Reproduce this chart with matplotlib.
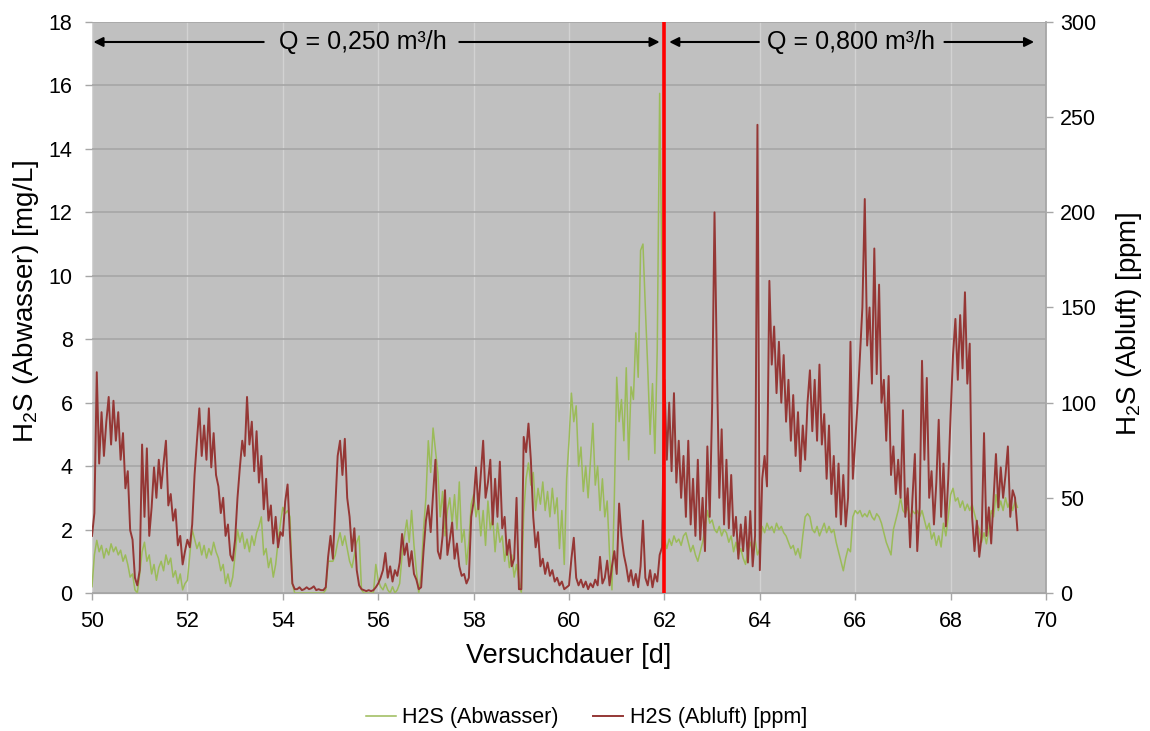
import numpy as np
import matplotlib
matplotlib.use("Agg")
import matplotlib.pyplot as plt

plt.rcParams['font.family'] = ['Liberation Sans', 'DejaVu Sans']
plt.rcParams['mathtext.fontset'] = 'custom'
plt.rcParams['mathtext.rm'] = 'Liberation Sans'

# time grid of the logged values (days), one value every 0.05 d
t_start = 50.0
t_step = 0.05

# H2S in the waste water [mg/L], one row per day
abwasser = [
    0.2, 1.2, 1.66, 1.3, 1.5, 1.1, 1.4, 1.2, 1.55, 1.3, 1.45, 1.2, 1.35, 1.0, 1.2, 0.9, 0.5, 0.6, 0.1, 0.0,
    0.6, 1.3, 1.6, 1.0, 1.2, 0.6, 0.9, 0.4, 0.8, 1.0, 0.7, 1.2, 0.9, 1.1, 0.5, 0.7, 0.3, 0.6, 0.1, 0.3,
    0.4, 1.2, 2.0, 1.7, 1.4, 1.6, 1.2, 1.5, 1.1, 1.4, 1.2, 1.6, 1.3, 1.1, 0.7, 0.9, 0.3, 0.6, 0.2, 0.5,
    1.2, 2.0, 1.6, 1.9, 1.4, 1.7, 1.3, 1.8, 1.5, 1.9, 2.1, 2.4, 1.2, 1.4, 0.8, 1.1, 0.5, 0.9, 1.6, 2.2,
    2.7, 2.5, 2.6, 2.4, 0.3, 0.0, 0.0, 0.0, 0.0, 0.0, 0.0, 0.0, 0.0, 0.0, 0.0, 0.0, 0.0, 0.0, 0.1, 1.0,
    1.0, 1.0, 1.2, 1.6, 1.9, 1.5, 1.8, 1.4, 1.0, 0.8, 1.2, 1.6, 1.8, 0.1, 0.0, 0.0, 0.0, 0.0, 0.0, 0.9,
    0.4, 0.2, 0.1, 0.3, 0.1, 0.0, 0.2, 0.0, 0.1, 0.3, 1.2, 1.8, 2.3, 1.6, 2.6, 1.5, 0.7, 0.0, 0.6, 2.0,
    3.0, 4.8, 3.8, 5.2, 4.5, 3.8, 2.4, 3.2, 1.8, 2.6, 3.0, 2.2, 3.1, 2.0, 3.5, 1.6, 2.0, 0.9, 1.6, 2.8,
    3.1, 2.4, 2.8, 1.8, 2.6, 1.5, 2.9, 2.0, 2.4, 1.3, 2.2, 1.6, 1.8, 1.0, 1.5, 0.8, 1.2, 0.5, 0.9, 0.4,
    0.0, 2.5, 3.6, 4.1, 3.4, 3.8, 2.6, 3.3, 2.8, 3.5, 2.6, 3.2, 2.4, 3.3, 2.5, 3.0, 1.4, 2.6, 0.9, 3.6,
    4.8, 6.3, 5.4, 5.9, 4.0, 4.6, 3.2, 4.0, 3.0, 4.2, 5.35, 3.4, 4.0, 2.6, 3.6, 2.4, 2.9, 1.2, 0.1, 3.0,
    6.8, 5.4, 6.1, 4.8, 7.1, 4.2, 6.5, 6.1, 8.2, 6.8, 10.8, 11.0, 9.0, 7.1, 5.0, 6.6, 4.4, 7.7, 15.75, 10.0,
    1.7, 1.4, 1.7, 1.5, 1.8, 1.6, 1.7, 1.5, 1.8, 1.9, 1.6, 1.3, 1.5, 1.2, 1.0, 1.3, 1.6, 2.0, 2.6, 2.2,
    2.3, 2.0, 1.9, 2.1, 1.8, 2.0, 1.9, 1.6, 1.8, 1.3, 1.6, 1.2, 1.4, 1.1, 0.9, 1.3, 1.6, 1.3, 1.7, 1.2,
    1.4, 2.1, 1.9, 2.2, 2.0, 2.1, 1.9, 2.2, 2.0, 2.1, 1.9, 1.8, 1.6, 1.4, 1.5, 1.2, 1.4, 1.1, 1.8, 2.4,
    2.5, 2.4, 2.0, 1.9, 2.1, 1.8, 2.0, 2.2, 1.9, 2.1, 1.9, 2.0, 1.6, 1.3, 1.0, 0.7, 1.1, 1.4, 1.3, 2.4,
    2.6, 2.5, 2.6, 2.4, 2.5, 2.4, 2.6, 2.4, 2.3, 2.5, 2.4, 2.2, 1.9, 1.6, 1.4, 1.2, 2.0, 2.3, 2.6, 3.0,
    2.6, 2.5, 2.7, 2.4, 2.6, 2.5, 2.6, 2.4, 2.6, 2.3, 2.0, 2.2, 1.7, 1.9, 1.5, 1.8, 1.45, 2.2, 1.8, 2.4,
    3.1, 3.3, 2.9, 3.0, 2.7, 2.9, 2.6, 2.8, 2.6, 2.8, 2.5, 2.2, 2.0, 1.6, 1.9, 1.55, 2.0, 2.6, 2.4, 3.1,
    2.6, 2.9, 2.6, 3.0, 2.7, 2.9, 2.6, 2.9, 2.7,
]

# H2S in the exhaust air [ppm], one row per day
abluft = [
    30, 42, 116, 68, 95, 72, 90, 103, 78, 101, 80, 95, 70, 84, 55, 64, 33, 28, 8, 4,
    12, 78, 40, 76, 30, 45, 66, 50, 70, 55, 68, 80, 46, 52, 38, 44, 25, 30, 15, 22,
    28, 24, 36, 62, 80, 97, 72, 88, 70, 97, 66, 84, 62, 56, 42, 50, 30, 36, 20, 17,
    28, 50, 66, 80, 72, 103, 78, 90, 64, 85, 58, 72, 44, 60, 38, 46, 26, 40, 24, 32,
    30, 48, 57, 30, 5, 2, 2, 3, 1.5, 2, 3, 2, 2.5, 3.5, 1.5, 2, 1.5, 1.5, 3, 19,
    30, 18, 45, 72, 80, 62, 81, 50, 40, 22, 34, 12, 4, 2, 1.5, 1, 1.5, 1, 1.5, 3,
    5, 8, 12, 21, 8, 14, 6, 12, 9, 16, 31, 20, 26, 14, 22, 10, 7, 2, 3, 22,
    38, 46, 32, 52, 70, 22, 18, 30, 54, 20, 28, 37, 18, 26, 14, 9, 10, 5, 8, 40,
    48, 66, 44, 62, 80, 50, 58, 70, 36, 60, 40, 69, 34, 40, 20, 28, 14, 18, 50, 2,
    2, 82, 74, 89, 70, 40, 24, 32, 14, 18, 10, 16, 9, 12, 6, 8, 4, 6, 2, 3,
    4, 18, 29, 8, 4, 7, 3, 6, 2, 5, 3, 7, 4, 19, 5, 8, 17, 4, 14, 22,
    10, 47, 30, 20, 14, 6, 12, 4, 10, 3, 14, 38, 8, 4, 12, 3, 10, 6, 20, 24,
    112, 70, 100, 64, 105, 58, 80, 50, 72, 40, 80, 36, 60, 30, 70, 28, 50, 22, 77, 40,
    98, 200, 120, 50, 86, 36, 70, 34, 62, 30, 40, 18, 36, 22, 40, 16, 43, 14, 30, 246,
    12, 60, 72, 56, 164, 120, 140, 105, 132, 100, 125, 90, 112, 80, 104, 72, 95, 64, 88, 70,
    100, 117, 85, 112, 80, 120, 78, 94, 60, 88, 52, 72, 40, 68, 36, 62, 35, 50, 132, 60,
    80, 100, 125, 150, 207, 130, 150, 110, 181, 115, 162, 100, 112, 80, 114, 62, 77, 52, 70, 50,
    96, 40, 55, 24, 50, 73, 22, 45, 122, 70, 113, 50, 64, 36, 58, 91, 40, 68, 35, 60,
    94, 125, 144, 112, 146, 118, 158, 110, 131, 40, 22, 38, 19, 30, 84, 30, 45, 26, 50, 73,
    45, 66, 50, 62, 77, 40, 54, 50, 33,
]

# change of flow rate
switch_day = 62.0
q_labels = ["Q = 0,250 m³/h", "Q = 0,800 m³/h"]

t_abw = t_start + t_step * np.arange(len(abwasser))
t_abl = t_start + t_step * np.arange(len(abluft))

green = '#9BBB59'
dred = '#953735'
gridc = '#A6A6A6'

fig = plt.figure(figsize=(11.5, 7.31), dpi=100)
ax1 = fig.add_axes([0.08, 0.1888, 0.8296, 0.7811])
ax1.set_facecolor('#C0C0C0')
ax1.set_axisbelow(True)
ax1.yaxis.grid(True, color=gridc, lw=1.2)
ax1.xaxis.grid(True, color='#D2D2D2', lw=1.0)

l1, = ax1.plot(t_abw, abwasser, color=green, lw=1.1, label='H2S (Abwasser)')
ax1.set_xlim(50, 70)
ax1.set_ylim(0, 18)
ax1.set_xticks(np.arange(50, 71, 2))
ax1.set_yticks(np.arange(0, 19, 2))

ax2 = ax1.twinx()
l2, = ax2.plot(t_abl, abluft, color=dred, lw=1.4, label='H2S (Abluft) [ppm]')
ax2.set_ylim(0, 300)
ax2.set_yticks(np.arange(0, 301, 50))
ax2.axvline(switch_day, color='#FF0000', lw=2.6, zorder=5)

for ax in (ax1, ax2):
    ax.spines['top'].set_visible(False)
    ax.spines['left'].set_visible(False)
    ax.spines['bottom'].set_color(gridc)
    ax.spines['right'].set_color(gridc)
    ax.spines['right'].set_linewidth(1.3)
ax1.spines['right'].set_visible(False)

ax1.tick_params(axis='both', colors=gridc, labelcolor='black', labelsize=15.5, length=5, width=1)
ax1.tick_params(axis='x', pad=8)
ax1.tick_params(axis='y', pad=9)
ax2.tick_params(axis='y', colors=gridc, labelcolor='black', labelsize=15.5, length=5, width=1, pad=5)

ax1.set_xlabel('Versuchdauer [d]', fontsize=19.5, labelpad=8)
ax1.set_ylabel(r'H$_\mathregular{2}$S (Abwasser) [mg/L]', fontsize=20)
ax1.yaxis.set_label_coords(-0.053, 0.51)
ax2.set_ylabel(r'H$_\mathregular{2}$S (Abluft) [ppm]', fontsize=20)
ax2.yaxis.set_label_coords(1.071, 0.471)

# flow rate annotations with arrows
arrow_y = 17.37
aprops = dict(arrowstyle='-|>', color='black', lw=1.5, mutation_scale=14, shrinkA=0, shrinkB=0)
ax1.text(55.68, arrow_y, q_labels[0], fontsize=18, ha='center', va='center')
ax1.annotate('', xy=(50.03, arrow_y), xytext=(53.6, arrow_y), arrowprops=aprops)
ax1.annotate('', xy=(61.9, arrow_y), xytext=(57.7, arrow_y), arrowprops=aprops)
ax1.text(65.92, arrow_y, q_labels[1], fontsize=18, ha='center', va='center')
ax1.annotate('', xy=(62.1, arrow_y), xytext=(63.98, arrow_y), arrowprops=aprops)
ax1.annotate('', xy=(69.75, arrow_y), xytext=(67.87, arrow_y), arrowprops=aprops)

fig.legend(handles=[l1, l2], loc='center', bbox_to_anchor=(0.51, 0.018), ncol=2,
           frameon=False, fontsize=15.5, handlelength=1.4, handletextpad=0.3, columnspacing=1.6)

fig.savefig('out.png', dpi=100)
